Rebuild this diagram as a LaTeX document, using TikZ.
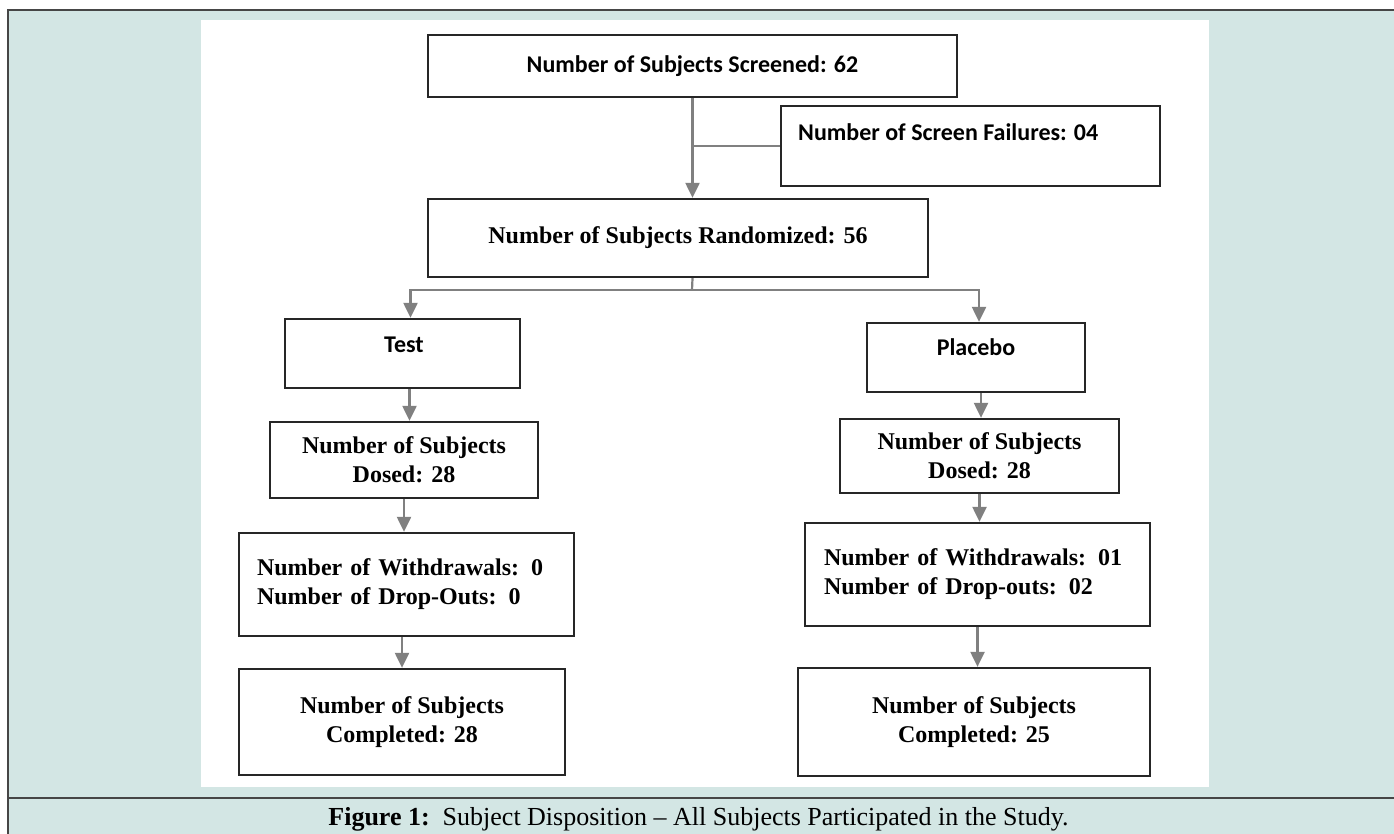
\documentclass[tikz,border=0pt]{standalone}
\usepackage{fontspec}
\setmainfont{Liberation Serif}
\newfontfamily\calib{Carlito}
\usetikzlibrary{arrows.meta}
\definecolor{bgteal}{RGB}{211,230,228}
\definecolor{arrgray}{RGB}{128,128,128}
\definecolor{framegray}{RGB}{70,70,70}

\begin{document}
\begin{tikzpicture}[x=1pt,y=-1pt,
    box/.style={draw=black!85, line width=2.3pt, inner sep=0pt, fill=white},
    sbox/.style={box, font=\calib\bfseries\fontsize{24}{29}\selectfont},
    tbox/.style={box, align=center, font=\bfseries\fontsize{24}{29}\selectfont},
    ctxt/.style={inner sep=0pt, font=\calib\bfseries\fontsize{24}{29}\selectfont},
    arr/.style={draw=arrgray, line width=2.2pt, -{Triangle[length=15pt,width=14pt]}},
    lnk/.style={draw=arrgray, line width=2.2pt}
]
\useasboundingbox (0,0) rectangle (1394,834);

% frame and panel
\fill[bgteal] (8,10) rectangle (1394,834);
\fill[white] (201,20) rectangle (1209,787);
\draw[framegray, line width=1.4pt] (8,834) -- (8,10) -- (1394,10);
\draw[framegray, line width=1.4pt] (8,798) -- (1394,798);

% screening
\node[sbox, minimum width=529pt, minimum height=62pt] (screened) at (692.5,66) {Number of Subjects Screened: 62};
\node[box, minimum width=379pt, minimum height=80pt] (fails) at (970.5,146) {};
\node[ctxt, anchor=west] (failstxt) at (798,132) {Number of Screen Failures: 04};
\node[tbox, minimum width=500pt, minimum height=78pt] (rand) at (678,238) {Number of Subjects Randomized: 56};

% arms
\node[box, minimum width=235pt, minimum height=69pt] (test) at (402.5,353.5) {};
\node[ctxt] (testtxt) at (404,345) {Test};
\node[box, minimum width=218pt, minimum height=69pt] (placebo) at (976,357.5) {};
\node[ctxt] (placebotxt) at (976,347) {Placebo};

% left column
\node[tbox, minimum width=268pt, minimum height=76pt] (dose1) at (404,460) {Number of Subjects\\Dosed: 28};
\node[tbox, align=left, text width=299pt, minimum width=335pt, minimum height=103pt] (wd1) at (406.5,584.5) {Number of Withdrawals: 0\\Number of Drop-Outs: 0};
\node[tbox, minimum width=326pt, minimum height=106pt] (comp1) at (402,722) {Number of Subjects\\Completed: 28};

% right column
\node[tbox, minimum width=279pt, minimum height=74pt] (dose2) at (979.5,456) {Number of Subjects\\Dosed: 28};
\node[tbox, align=left, text width=307pt, minimum width=345pt, minimum height=103pt] (wd2) at (977.5,574.5) {Number of Withdrawals: 01\\Number of Drop-outs: 02};
\node[tbox, minimum width=352pt, minimum height=108pt] (comp2) at (974,722) {Number of Subjects\\Completed: 25};

% connectors
\draw[arr] (screened.south) -- (screened.south |- rand.north);
\draw[lnk] (fails.west) -- (fails.west -| screened.south);
\coordinate (split) at (692,290);
\draw[lnk] (rand.south -| screened.south) -- (split);
\draw[arr] (split) -| ([xshift=8pt]test.north);
\draw[arr] (split) -| ([xshift=3pt]placebo.north);
\draw[arr] ([xshift=7pt]test.south) -- ([xshift=7pt]test.south |- dose1.north);
\draw[arr] (dose1.south) -- (dose1.south |- wd1.north);
\draw[arr] (comp1.north |- wd1.south) -- (comp1.north);
\draw[arr] ([xshift=5pt]placebo.south) -- ([xshift=5pt]placebo.south |- dose2.north);
\draw[arr] (dose2.south) -- (dose2.south |- wd2.north);
\draw[arr] (wd2.south) -- (wd2.south |- comp2.north);

% caption
\node[font=\fontsize{26}{30}\selectfont] (caption) at (698.5,819) {\textbf{Figure 1:}\ \ Subject Disposition – All Subjects Participated in the Study.};
\end{tikzpicture}
\end{document}
